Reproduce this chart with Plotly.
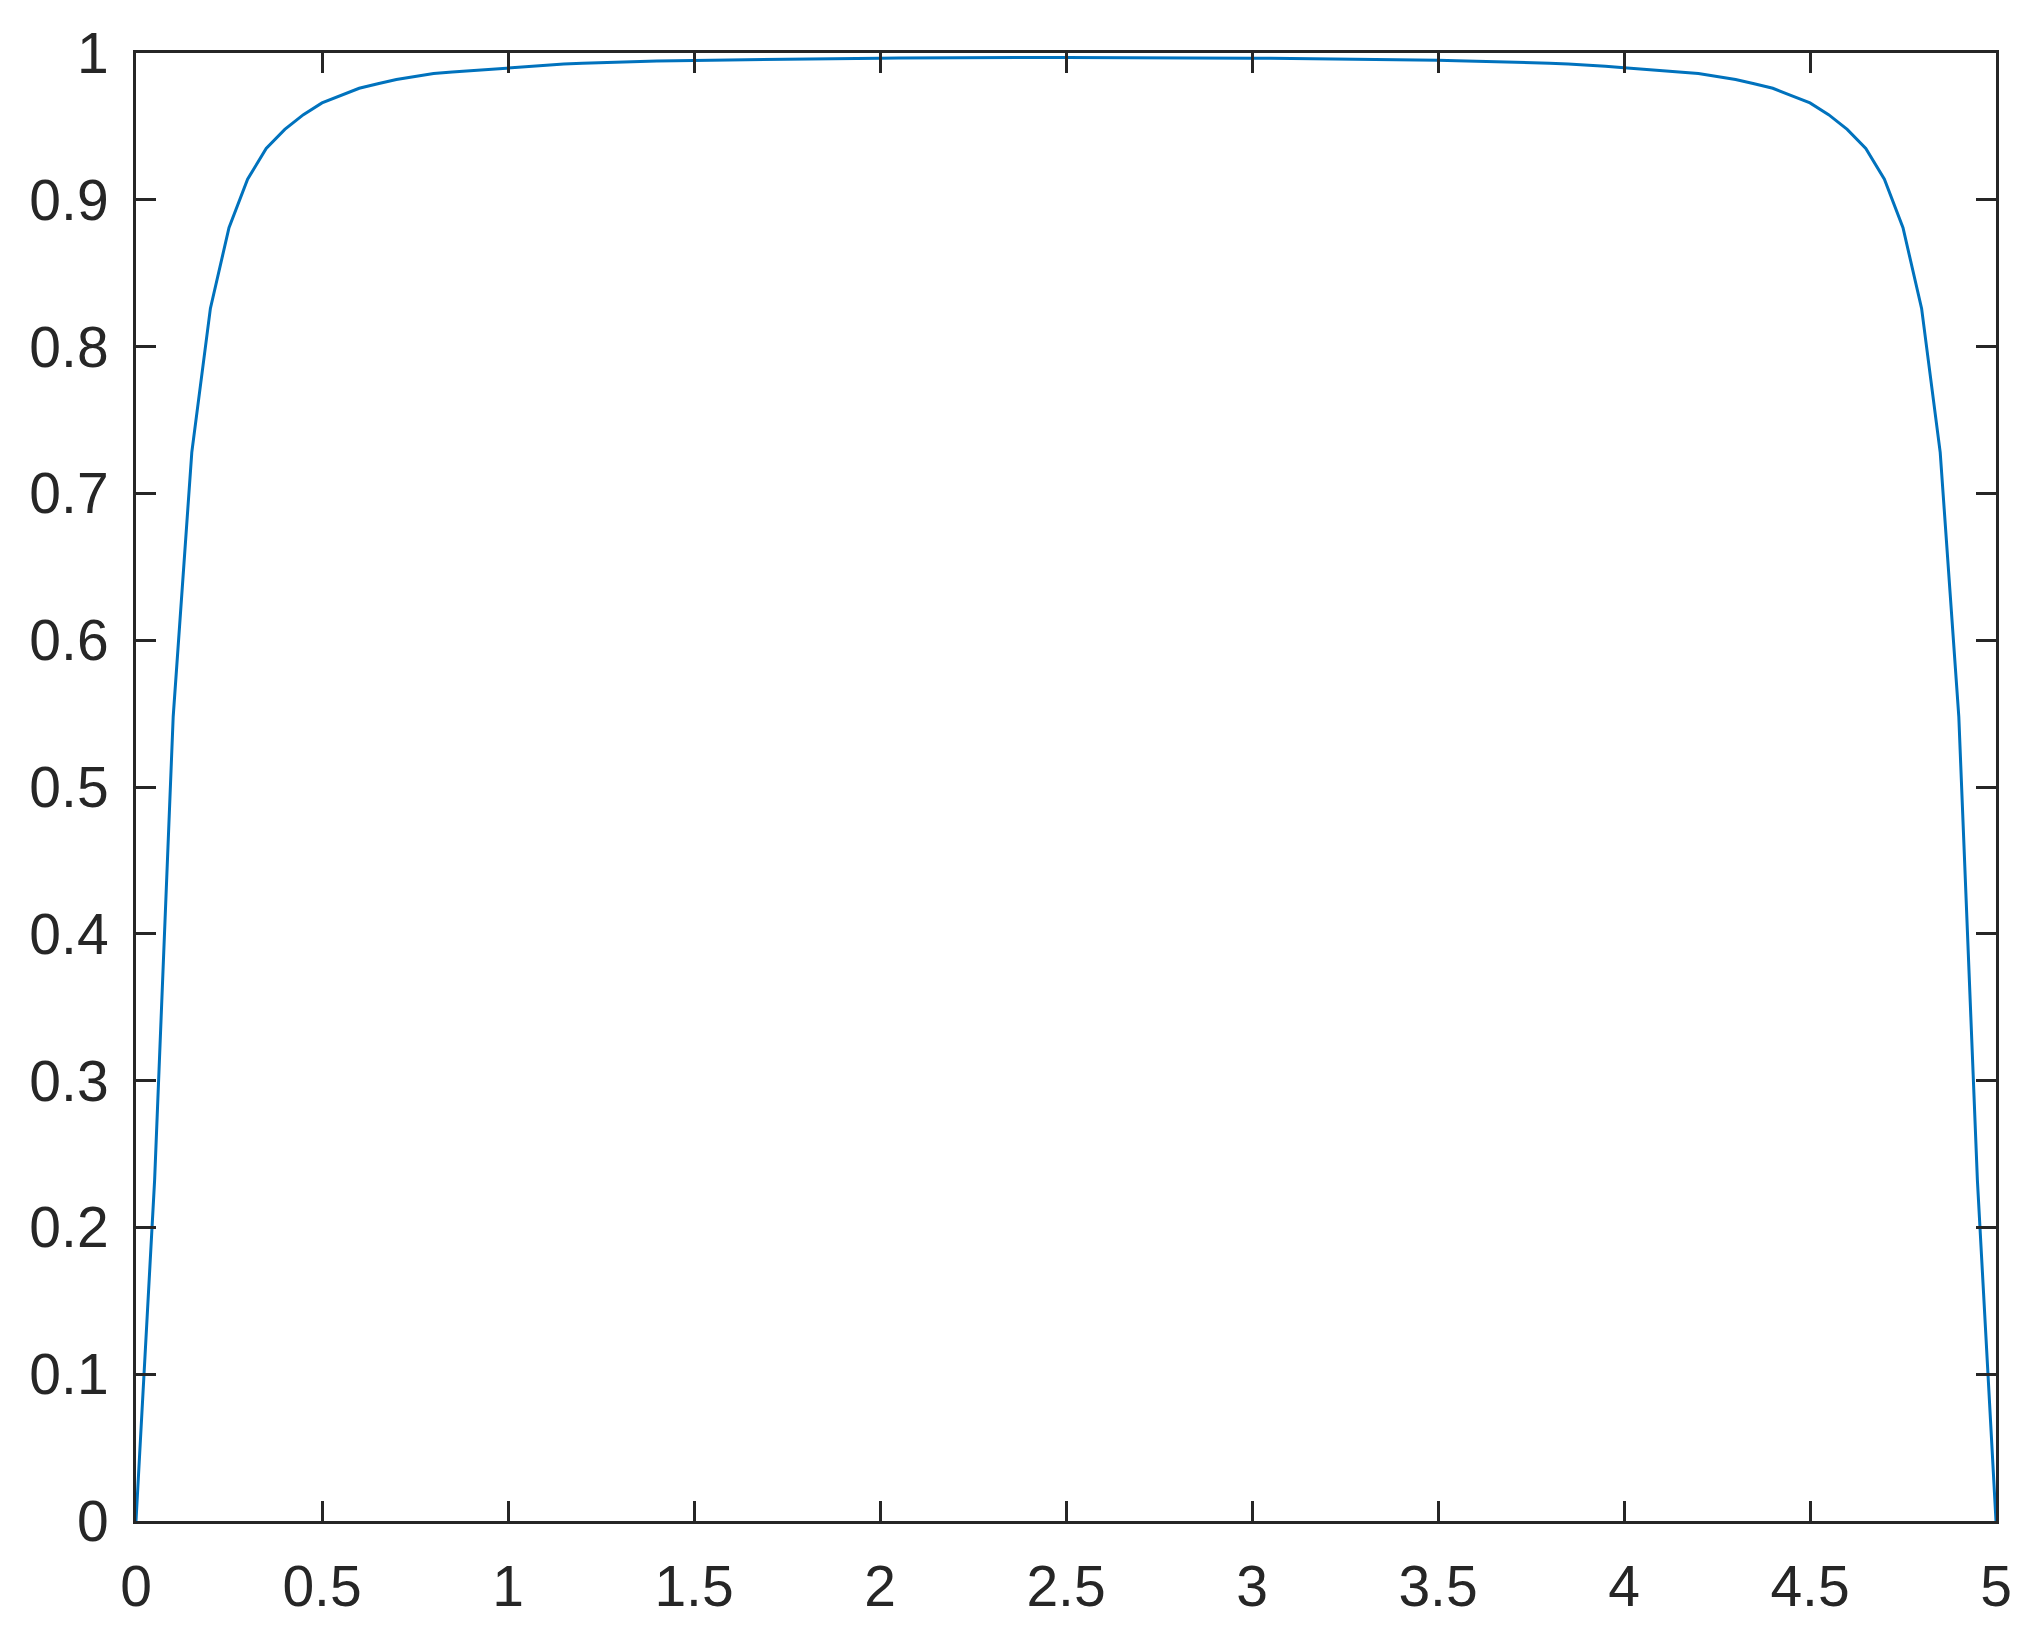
import plotly.graph_objects as go

# sample positions (step 0.05 from 0 to 5)
x_vals = [
    0.00, 0.05, 0.10, 0.15, 0.20, 0.25, 0.30, 0.35, 0.40, 0.45,
    0.50, 0.55, 0.60, 0.65, 0.70, 0.75, 0.80, 0.85, 0.90, 0.95,
    1.00, 1.05, 1.10, 1.15, 1.20, 1.25, 1.30, 1.35, 1.40, 1.45,
    1.50, 1.55, 1.60, 1.65, 1.70, 1.75, 1.80, 1.85, 1.90, 1.95,
    2.00, 2.05, 2.10, 2.15, 2.20, 2.25, 2.30, 2.35, 2.40, 2.45,
    2.50, 2.55, 2.60, 2.65, 2.70, 2.75, 2.80, 2.85, 2.90, 2.95,
    3.00, 3.05, 3.10, 3.15, 3.20, 3.25, 3.30, 3.35, 3.40, 3.45,
    3.50, 3.55, 3.60, 3.65, 3.70, 3.75, 3.80, 3.85, 3.90, 3.95,
    4.00, 4.05, 4.10, 4.15, 4.20, 4.25, 4.30, 4.35, 4.40, 4.45,
    4.50, 4.55, 4.60, 4.65, 4.70, 4.75, 4.80, 4.85, 4.90, 4.95,
    5.00,
]

# values
y_vals = [
    0.000, 0.232, 0.548, 0.728, 0.826, 0.881, 0.914, 0.935, 0.948, 0.958,
    0.966, 0.971, 0.976, 0.979, 0.982, 0.984, 0.986, 0.987, 0.988, 0.989,
    0.990, 0.991, 0.992, 0.9925, 0.993, 0.9935, 0.994, 0.9942, 0.9945, 0.9948,
    0.995, 0.9952, 0.9954, 0.9956, 0.9958, 0.996, 0.9961, 0.9962, 0.9963, 0.9964,
    0.9965, 0.9966, 0.9967, 0.9967, 0.9968, 0.9968, 0.9969, 0.9969, 0.9969, 0.997,
    0.997, 0.997, 0.9969, 0.9969, 0.9969, 0.9968, 0.9968, 0.9967, 0.9967, 0.9966,
    0.9965, 0.9964, 0.9963, 0.9962, 0.9961, 0.996, 0.9958, 0.9956, 0.9954, 0.9952,
    0.995, 0.9948, 0.9945, 0.9942, 0.994, 0.9935, 0.993, 0.9925, 0.992, 0.991,
    0.990, 0.989, 0.988, 0.987, 0.986, 0.984, 0.982, 0.979, 0.976, 0.971,
    0.966, 0.958, 0.948, 0.935, 0.914, 0.881, 0.826, 0.728, 0.548, 0.232,
    0.000,
]

x_ticks = [0, 0.5, 1, 1.5, 2, 2.5, 3, 3.5, 4, 4.5, 5]
y_ticks = [0, 0.1, 0.2, 0.3, 0.4, 0.5, 0.6, 0.7, 0.8, 0.9, 1]

axis_col = "#262626"
font_fam = "Liberation Sans, Arial, Helvetica, sans-serif"

fig = go.Figure()
fig.add_trace(go.Scatter(
    x=x_vals, y=y_vals, mode="lines",
    line=dict(color="#0072BD", width=3),
    showlegend=False,
))

axis_common = dict(
    showgrid=False, zeroline=False,
    showline=True, linecolor=axis_col, linewidth=3,
    mirror="ticks", ticks="inside", ticklen=20, tickwidth=3,
    tickcolor=axis_col,
    tickfont=dict(family=font_fam, size=57, color=axis_col),
)

fig.update_xaxes(range=[0, 5], tickvals=x_ticks, ticklabelstandoff=14, **axis_common)
fig.update_yaxes(range=[0, 1], tickvals=y_ticks, ticklabelstandoff=13, **axis_common)

# page body has an 8px margin, so the plot box is shifted by that much
fig.update_layout(
    width=2038, height=1650,
    margin=dict(l=128, r=50, t=45, b=137),
    plot_bgcolor="white", paper_bgcolor="white",
)

fig.write_html("out.html")
